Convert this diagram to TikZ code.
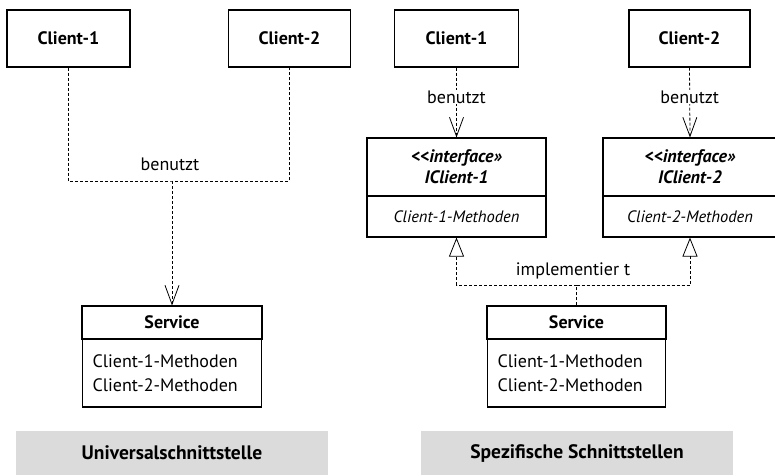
\documentclass[tikz,border=0pt]{standalone}
\usepackage{fontspec}
\setmainfont{PT Sans}
\usetikzlibrary{arrows.meta,positioning}
\newcommand{\diafont}{\fontsize{18pt}{24pt}\selectfont}
\newcommand{\capfont}{\fontsize{19.5pt}{24pt}\selectfont}
\newcommand{\ifcfont}{\fontsize{16.5pt}{24pt}\selectfont}
\tikzset{
  box/.style={draw=black,line width=1.1pt,fill=white,inner sep=0pt,align=center,font=\diafont},
  titlebox/.style={box,font=\diafont\bfseries},
  methbox/.style={box,align=left,text width=159pt,inner xsep=10pt},
  uses/.style={draw=black,dash pattern=on 3pt off 2pt,line width=0.8pt},
  usesarrow/.style={uses,-{Straight Barb[length=19pt,width=14pt,line width=0.8pt]}},
  implarrow/.style={uses,-{Triangle[open,length=19pt,width=15pt,line width=0.8pt]}},
  caption/.style={fill=black!14,minimum width=312pt,minimum height=44pt,font=\capfont\bfseries}
}
\begin{document}
\begin{tikzpicture}[x=1pt,y=-1pt]
        \useasboundingbox (0,0) rectangle (775,475);
        \node[titlebox,minimum width=123pt,minimum height=57pt] (lc1) at (68.5,38.5){Client-1};
        \node[titlebox,minimum width=122pt,minimum height=57pt] (lc2) at (289.5,38.5){Client-2};
        \node[titlebox,minimum width=180pt,minimum height=33pt] (lsrv) at (172,322.5){Service};
        \node[methbox,minimum height=68pt] (lsrvm) at (172,373){Client-1-Methoden\\Client-2-Methoden};
        \coordinate (ljoin) at (172,181);
        \node[font=\diafont] (llbl) at (170,164){benutzt};
        \node[caption] (lcap) at (172,453){Universalschnittstelle};
        \draw[uses] (lc1.south) |- (ljoin) -| (lc2.south);
        \draw[usesarrow] (ljoin) -- (lsrv.north);
        \node[titlebox,minimum width=124pt,minimum height=57pt] (rc1) at (456.5,38.5){Client-1};
        \node[titlebox,minimum width=121pt,minimum height=57pt] (rc2) at (689.5,38.5){Client-2};
        \node[titlebox,font=\diafont\bfseries\itshape,minimum width=179pt,minimum height=58pt] (ic1) at (456.5,167){{<}{<}interface»\\[-3pt]IClient-1};
        \node[box,font=\ifcfont\itshape,minimum width=179pt,minimum height=41pt] (ic1m) at (456.5,216.5){Client-1-Methoden};
        \node[titlebox,font=\diafont\bfseries\itshape,minimum width=174pt,minimum height=58pt] (ic2) at (690,167){{<}{<}interface»\\[-3pt]IClient-2};
        \node[box,font=\ifcfont\itshape,minimum width=174pt,minimum height=41pt] (ic2m) at (690,216.5){Client-2-Methoden};
        \node[titlebox,minimum width=179pt,minimum height=33pt] (rsrv) at (576.5,322.5){Service};
        \node[methbox,text width=158pt,minimum height=68pt] (rsrvm) at (576.5,373){Client-1-Methoden\\Client-2-Methoden};
        \coordinate (rjoin) at (576.5,285);
        \node[font=\diafont] (rlbl) at (573,271){implementier t};
        \node[caption] (rcap) at (577,453){Spezifische Schnittstellen};
        \draw[usesarrow] (rc1.south) -- node[pos=0.42,fill=white,inner sep=1pt,font=\diafont] (rlbl1){benutzt} (ic1.north);
        \draw[usesarrow] (rc2.south) -- node[pos=0.42,fill=white,inner sep=1pt,font=\diafont] (rlbl2){benutzt} (ic2.north);
        \draw[uses] (rsrv.north) -- (rjoin);
        \draw[implarrow] (rjoin) -| (ic1m.south);
        \draw[implarrow] (rjoin) -| (ic2m.south);
    \end{tikzpicture}
\end{document}
